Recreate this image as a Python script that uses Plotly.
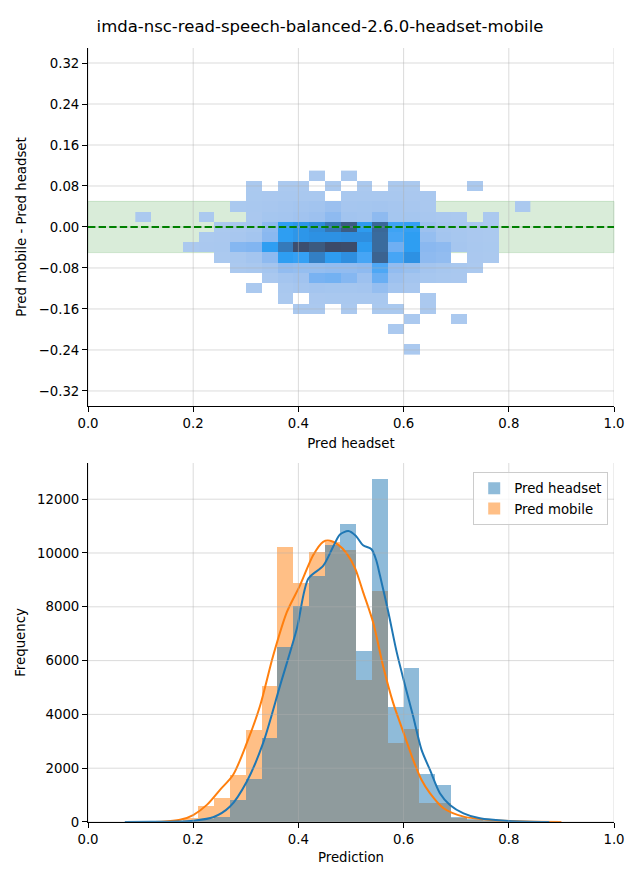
import plotly.graph_objects as go

TITLE = "imda-nsc-read-speech-balanced-2.6.0-headset-mobile"

# ---------------- top: 2D histogram (Pred headset vs difference) ----------------
hm_x = [0.105, 0.135, 0.165, 0.195, 0.225, 0.255, 0.285, 0.315, 0.345, 0.375,
        0.405, 0.435, 0.465, 0.495, 0.525, 0.555, 0.585, 0.615, 0.645, 0.675,
        0.705, 0.735, 0.765, 0.795, 0.825]
hm_y = [0.10, 0.08, 0.06, 0.04, 0.02, 0.00, -0.02, -0.04, -0.06, -0.08, -0.10,
        -0.12, -0.14, -0.16, -0.18, -0.20, -0.22, -0.24]
hm_counts = [
    [0, 0, 0, 0, 0, 0, 0, 0, 0, 0, 0, 5, 0, 5, 0, 0, 0, 0, 0, 0, 0, 0, 0, 0, 0],
    [0, 0, 0, 0, 0, 0, 0, 8, 0, 10, 10, 0, 8, 0, 10, 0, 10, 8, 0, 0, 0, 5, 0, 0, 0],
    [0, 0, 0, 0, 0, 0, 0, 15, 20, 35, 50, 40, 0, 40, 50, 50, 40, 30, 20, 0, 0, 0, 0, 0, 0],
    [0, 0, 0, 0, 0, 0, 15, 40, 60, 100, 150, 180, 280, 100, 120, 150, 100, 60, 30, 0, 0, 0, 0, 0, 5],
    [5, 0, 0, 0, 5, 0, 0, 30, 120, 150, 200, 250, 450, 180, 150, 450, 120, 120, 60, 20, 10, 0, 5, 0, 0],
    [0, 0, 0, 0, 0, 10, 30, 80, 450, 1300, 1450, 1650, 2100, 2600, 1350, 2350, 1200, 1250, 250, 100, 60, 30, 10, 0, 0],
    [0, 0, 0, 0, 5, 20, 60, 150, 500, 1300, 1450, 1550, 1550, 1600, 1600, 2300, 1150, 1300, 350, 150, 80, 30, 10, 0, 0],
    [0, 0, 0, 5, 20, 50, 550, 600, 1300, 2000, 2900, 2650, 3000, 2950, 1350, 2300, 800, 1300, 500, 450, 100, 40, 15, 0, 0],
    [0, 0, 0, 0, 0, 10, 50, 150, 450, 1300, 1250, 1900, 1350, 1600, 1150, 2450, 1150, 1550, 450, 400, 0, 20, 10, 0, 0],
    [0, 0, 0, 0, 0, 0, 10, 40, 150, 400, 350, 350, 400, 400, 450, 1100, 400, 300, 150, 80, 40, 10, 0, 0, 0],
    [0, 0, 0, 0, 0, 0, 0, 0, 20, 150, 200, 700, 750, 550, 250, 850, 250, 150, 80, 40, 20, 0, 0, 0, 0],
    [0, 0, 0, 0, 0, 0, 0, 5, 0, 40, 100, 150, 120, 120, 150, 350, 150, 60, 0, 0, 0, 0, 0, 0, 0],
    [0, 0, 0, 0, 0, 0, 0, 0, 0, 10, 0, 30, 50, 50, 40, 50, 0, 0, 10, 0, 0, 0, 0, 0, 0],
    [0, 0, 0, 0, 0, 0, 0, 0, 0, 0, 10, 10, 0, 10, 0, 15, 15, 0, 8, 0, 0, 0, 0, 0, 0],
    [0, 0, 0, 0, 0, 0, 0, 0, 0, 0, 0, 0, 0, 0, 0, 0, 0, 5, 0, 0, 5, 0, 0, 0, 0],
    [0, 0, 0, 0, 0, 0, 0, 0, 0, 0, 0, 0, 0, 0, 0, 0, 5, 0, 0, 0, 0, 0, 0, 0, 0],
    [0, 0, 0, 0, 0, 0, 0, 0, 0, 0, 0, 0, 0, 0, 0, 0, 0, 0, 0, 0, 0, 0, 0, 0, 0],
    [0, 0, 0, 0, 0, 0, 0, 0, 0, 0, 0, 0, 0, 0, 0, 0, 0, 5, 0, 0, 0, 0, 0, 0, 0],
]
band_half_width = 0.05
top_yticks = [-0.32, -0.24, -0.16, -0.08, 0.0, 0.08, 0.16, 0.24, 0.32]
x_ticks = [0.0, 0.2, 0.4, 0.6, 0.8, 1.0]

# ---------------- bottom: histograms + KDE ----------------
bin_width = 0.03
hist_left = [0.06, 0.09, 0.12, 0.15, 0.18, 0.21, 0.24, 0.27, 0.30, 0.33, 0.36, 0.39,
             0.42, 0.45, 0.48, 0.51, 0.54, 0.57, 0.60, 0.63, 0.66, 0.69, 0.72, 0.75,
             0.78, 0.81, 0.84, 0.87]
headset_counts = [2, 5, 10, 20, 40, 120, 200, 800, 1610, 3115, 6505, 8025, 9160, 10280,
                  11080, 6355, 12750, 4290, 5720, 1790, 1360, 200, 120, 60, 30, 10, 5, 0]
mobile_counts = [2, 10, 20, 50, 150, 600, 910, 1730, 3410, 5060, 10240, 8900, 10020, 10390,
                 10110, 5270, 8600, 2930, 3450, 720, 700, 150, 80, 40, 20, 10, 5, 2]

kde_headset_x = [0.07, 0.12, 0.17, 0.20, 0.238, 0.27, 0.302, 0.333, 0.365, 0.397, 0.419,
                 0.447, 0.466, 0.479, 0.495, 0.509, 0.523, 0.539, 0.548, 0.555, 0.571,
                 0.587, 0.603, 0.618, 0.634, 0.65, 0.669, 0.688, 0.714, 0.745, 0.80, 0.877]
kde_headset_y = [0, 5, 15, 50, 175, 573, 1508, 2940, 5060, 7180, 9050,
                 9520, 10230, 10690, 10815, 10640, 10290, 10140, 9730, 9170, 7800,
                 6305, 5060, 3937, 2690, 1944, 1072, 636, 324, 137, 40, 0]
kde_mobile_x = [0.10, 0.14, 0.175, 0.20, 0.226, 0.251, 0.276, 0.302, 0.327, 0.352, 0.378,
                0.403, 0.428, 0.447, 0.46, 0.476, 0.492, 0.508, 0.523, 0.542, 0.561, 0.58,
                0.60, 0.618, 0.634, 0.65, 0.676, 0.714, 0.777, 0.83, 0.90]
kde_mobile_y = [0, 10, 80, 260, 636, 1196, 1757, 2940, 4311, 6180, 7800,
                8797, 9918, 10417, 10455, 10300, 9980, 9420, 8548, 7427, 5800, 4436,
                3315, 2318, 1570, 1072, 510, 200, 60, 15, 0]
bottom_yticks = [0, 2000, 4000, 6000, 8000, 10000, 12000]
bottom_ymax = 13345

BLUE = "#1f77b4"
ORANGE = "#ff7f0e"
BLUE_FILL = "rgba(31,119,180,0.5)"
ORANGE_FILL = "rgba(255,127,14,0.5)"
GRID = "rgba(176,176,176,0.45)"
FONT = "DejaVu Sans"

z = [[(v if v > 0 else None) for v in row] for row in hm_counts]

colorscale = [
    [0.0, "#abc9ef"], [0.06, "#a2c4ef"], [0.15, "#8ebaf0"], [0.27, "#6eaff3"],
    [0.38, "#48a6f5"], [0.43, "#2e9ef3"], [0.52, "#2d90e2"], [0.63, "#3380c5"],
    [0.77, "#3a6a9c"], [0.88, "#3c5a80"], [1.0, "#3c4a68"],
]

fig = go.Figure()

fig.add_trace(go.Heatmap(
    x=hm_x, y=hm_y, z=z, colorscale=colorscale, zmin=1, zmax=3000,
    showscale=False, xaxis="x", yaxis="y", hoverongaps=False,
))

# orange drawn first (under), blue on top
fig.add_trace(go.Bar(
    x=hist_left, y=mobile_counts, width=bin_width, offset=0,
    marker=dict(color=ORANGE_FILL, line=dict(width=0)),
    name="Pred mobile", legendrank=2, xaxis="x2", yaxis="y2",
))
fig.add_trace(go.Bar(
    x=hist_left, y=headset_counts, width=bin_width, offset=0,
    marker=dict(color=BLUE_FILL, line=dict(width=0)),
    name="Pred headset", legendrank=1, xaxis="x2", yaxis="y2",
))
fig.add_trace(go.Scatter(
    x=kde_mobile_x, y=kde_mobile_y, mode="lines",
    line=dict(color=ORANGE, width=2, shape="spline", smoothing=0.8),
    showlegend=False, xaxis="x2", yaxis="y2",
))
fig.add_trace(go.Scatter(
    x=kde_headset_x, y=kde_headset_y, mode="lines",
    line=dict(color=BLUE, width=2, shape="spline", smoothing=0.8),
    showlegend=False, xaxis="x2", yaxis="y2",
))

shapes = []
# green band (below grid)
shapes.append(dict(type="rect", xref="x domain", yref="y", x0=0, x1=1,
                   y0=-band_half_width, y1=band_half_width,
                   fillcolor="rgba(0,128,0,0.15)", line=dict(color="rgba(0,128,0,0.15)", width=1),
                   layer="below"))
# grid lines above traces (matplotlib style)
for xv in x_ticks:
    shapes.append(dict(type="line", xref="x", yref="y domain", x0=xv, x1=xv, y0=0, y1=1,
                       line=dict(color=GRID, width=1), layer="above"))
    shapes.append(dict(type="line", xref="x2", yref="y2 domain", x0=xv, x1=xv, y0=0, y1=1,
                       line=dict(color=GRID, width=1), layer="above"))
for yv in top_yticks:
    shapes.append(dict(type="line", xref="x domain", yref="y", x0=0, x1=1, y0=yv, y1=yv,
                       line=dict(color=GRID, width=1), layer="above"))
for yv in bottom_yticks:
    shapes.append(dict(type="line", xref="x2 domain", yref="y2", x0=0, x1=1, y0=yv, y1=yv,
                       line=dict(color=GRID, width=1), layer="above"))
# dashed zero line
shapes.append(dict(type="line", xref="x domain", yref="y", x0=0, x1=1, y0=0, y1=0,
                   line=dict(color="#008000", width=2, dash="7.4px,3.2px"), layer="above"))

TICKFONT = dict(family=FONT, size=13.3, color="black")
axis_common = dict(showline=True, linecolor="black", linewidth=1, ticks="outside",
                   ticklen=5, tickwidth=1, tickcolor="black", showgrid=False,
                   zeroline=False, mirror=False, automargin=False, tickfont=TICKFONT)

# The page body adds an 8px offset; the figure is sized/placed to compensate.
fig.update_layout(
    width=632, height=872,
    margin=dict(l=80, r=26, t=40, b=58),
    paper_bgcolor="white", plot_bgcolor="white",
    font=dict(family=FONT, size=13.3, color="black"),
    title=dict(text=TITLE, x=312 / 632, xref="container", xanchor="center",
               y=1 - 18 / 872, yref="container", yanchor="middle",
               font=dict(family=FONT, size=16.5, color="black")),
    barmode="overlay", bargap=0,
    shapes=shapes,
    showlegend=True,
    legend=dict(x=0.989, xanchor="right", y=0.452, yanchor="top",
                bgcolor="rgba(255,255,255,0.8)", bordercolor="#cccccc", borderwidth=1,
                font=dict(family=FONT, size=13.3, color="black"), traceorder="normal"),
    xaxis=dict(domain=[0, 1], range=[0, 1], anchor="y", tickvals=x_ticks, tickformat=".1f",
               title=dict(text="Pred headset", standoff=8, font=TICKFONT), **axis_common),
    yaxis=dict(domain=[0.5375, 1], range=[-0.3493, 0.3493], anchor="x", tickvals=top_yticks,
               tickformat=".2f",
               title=dict(text="Pred mobile - Pred headset", standoff=8, font=TICKFONT),
               **axis_common),
    xaxis2=dict(domain=[0, 1], range=[0, 1], anchor="y2", tickvals=x_ticks, tickformat=".1f",
                title=dict(text="Prediction", standoff=6, font=TICKFONT), **axis_common),
    yaxis2=dict(domain=[0, 0.4638], range=[0, bottom_ymax], anchor="x2", tickvals=bottom_yticks,
                tickformat="d", title=dict(text="Frequency", standoff=8, font=TICKFONT),
                **axis_common),
)

fig.write_html("out.html")
